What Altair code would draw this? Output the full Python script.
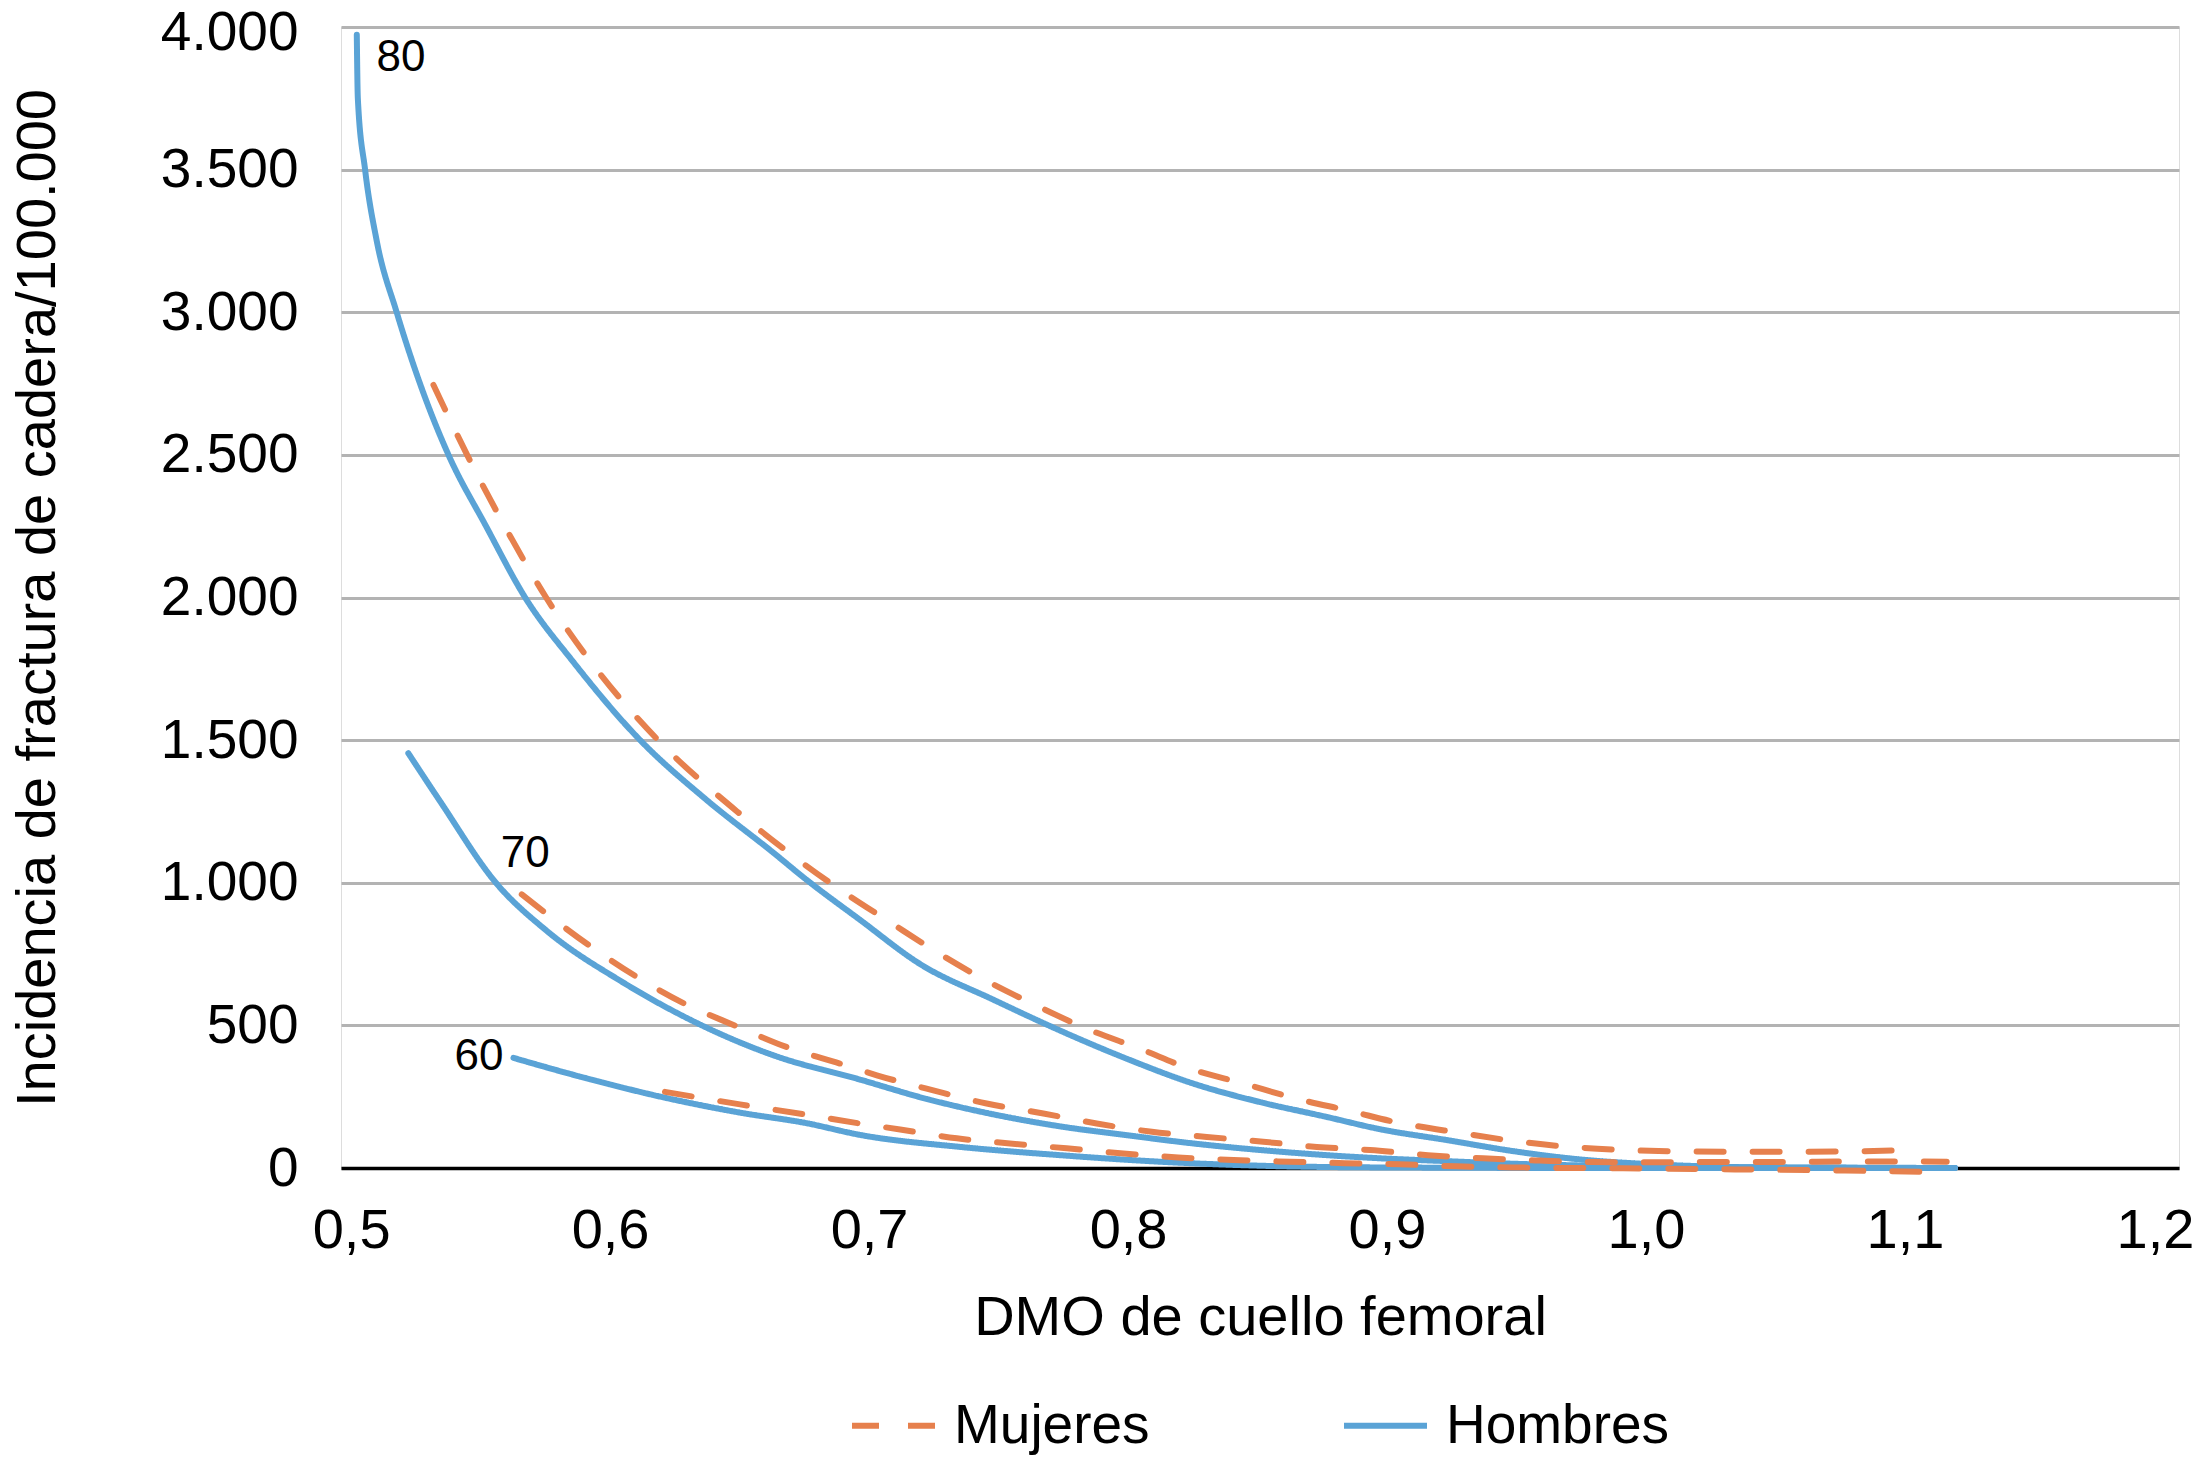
import altair as alt
import pandas as pd

# ---- data ----
h80_x = [0.5022, 0.5026, 0.5054, 0.5099, 0.5176, 0.5266, 0.5376, 0.5521, 0.5672, 0.5858, 0.6116, 0.6373, 0.6631,
         0.6759, 0.6965, 0.7197, 0.7480, 0.7737, 0.7995, 0.8252, 0.8510, 0.8767, 0.8973, 0.9230, 0.9488, 0.9745,
         1.0003, 1.0260, 1.0595, 1.1193]
h80_y = [3973, 3750, 3500, 3250, 3000, 2750, 2500, 2250, 2000, 1774, 1500, 1290, 1105,
         1010, 870, 715, 590, 482, 383, 296, 231, 179, 136, 98, 59, 30,
         14, 5, 1, 0]

m80_x = [0.5318, 0.5448, 0.5587, 0.5753, 0.5946, 0.6185, 0.6490, 0.6849, 0.7094, 0.7274, 0.7454, 0.7647, 0.7841,
         0.8046, 0.8239, 0.8445, 0.8651, 0.8870, 0.9012, 0.9282, 0.9488, 0.9707, 0.9925, 1.0131, 1.0350, 1.0569,
         1.0775, 1.1007]
m80_y = [2745, 2500, 2260, 2000, 1750, 1500, 1250, 1000, 854, 750, 656, 569, 488,
         418, 348, 296, 243, 197, 165, 123, 95, 74, 63, 58, 57, 57,
         58, 63]

h70_x = [0.5221, 0.5344, 0.5559, 0.5756, 0.6051, 0.6354, 0.6631, 0.6965, 0.7223, 0.7480, 0.7737, 0.7995, 0.8252,
         0.8510, 0.8767, 0.8973, 0.9230, 0.9488, 0.9745, 1.0003, 1.0595, 1.1193]
h70_y = [1454, 1285, 1000, 831, 650, 500, 395, 310, 242, 188, 146, 115, 86,
         63, 45, 34, 24, 15, 9, 5, 2, 0]

m70_x = [0.5659, 0.5923, 0.6103, 0.6290, 0.6483, 0.6682, 0.6888, 0.7030, 0.7248, 0.7454, 0.7673, 0.7879, 0.8092,
         0.8304, 0.8522, 0.8729, 0.8934, 0.9158, 0.9371, 0.9591, 0.9795, 1.0015, 1.0234, 1.0452, 1.0659, 1.0876,
         1.1161]
m70_y = [959, 778, 670, 575, 499, 424, 366, 325, 272, 226, 191, 156, 127,
         109, 92, 74, 63, 45, 34, 26, 21, 20, 21, 21, 22, 23,
         22]

h60_x = [0.5627, 0.5923, 0.6219, 0.6502, 0.6759, 0.6965, 0.7351, 0.7737, 0.8124, 0.8510, 0.8973, 0.9822, 1.1193]
h60_y = [386, 311, 245, 194, 157, 116, 74, 45, 22, 8, 2, 0, 0]

m60_x = [0.6212, 0.6502, 0.6759, 0.6965, 0.7120, 0.7339, 0.7544, 0.7763, 0.7982, 0.8194, 0.8407, 0.8625, 0.8838,
         0.9050, 0.9269, 0.9481, 0.9911, 1.0344, 1.0768, 1.1161]
m60_y = [267, 223, 187, 156, 135, 104, 86, 69, 51, 37, 28, 22, 17,
         13, 6, 2, -1, -5, -9, -15]

age_labels = ["80", "70", "60"]
age_label_x = [0.5193, 0.5672, 0.5494]
age_label_y = [3890, 1100, 388]

x_ticks = [0.5, 0.6, 0.7, 0.8, 0.9, 1.0, 1.1, 1.2]
y_ticks = [0, 500, 1000, 1500, 2000, 2500, 3000, 3500, 4000]
sex_order = ["Mujeres", "Hombres"]

# ---- build tables ----
def series(xs, ys, sexo, edad):
    return pd.DataFrame({"x": xs, "y": ys, "sexo": sexo, "edad": edad})

hombres = pd.concat([series(h80_x, h80_y, "Hombres", "80"),
                     series(h70_x, h70_y, "Hombres", "70"),
                     series(h60_x, h60_y, "Hombres", "60")], ignore_index=True)
mujeres = pd.concat([series(m80_x, m80_y, "Mujeres", "80"),
                     series(m70_x, m70_y, "Mujeres", "70"),
                     series(m60_x, m60_y, "Mujeres", "60")], ignore_index=True)
labels = pd.DataFrame({"x": age_label_x, "y": age_label_y, "t": age_labels})

FONT = "Liberation Sans"
BLUE = "#5AA3D6"
ORANGE = "#E6804D"
PLOT_W, PLOT_H = 1838, 1141

x_scale = alt.Scale(domain=[0.4961, 1.2058], nice=False, zero=False)
y_scale = alt.Scale(domain=[0, 4000], nice=False, zero=False)

x_axis = alt.Axis(
    values=x_ticks, title="DMO de cuello femoral", grid=False, ticks=False, tickSize=0,
    domain=True, domainColor="#000000", domainWidth=3.5,
    labelExpr="replace(format(datum.value, '.1f'), '.', ',')",
    labelFont=FONT, labelFontSize=56, labelColor="#000000", labelPadding=35,
    labelOffset={"condition": {"test": "datum.value > 1.15", "value": -9}, "value": 0},
    titleFont=FONT, titleFontSize=56, titleFontWeight="normal", titleColor="#000000",
    titleBaseline="alphabetic", titleY=166,
)
y_axis = alt.Axis(
    values=y_ticks, title="Incidencia de fractura de cadera/100.000",
    grid=True, gridColor="#B3B3B3", gridWidth=3, ticks=False, tickSize=0, domain=False,
    labelExpr="replace(format(datum.value, ','), ',', '.')",
    labelFont=FONT, labelFontSize=55, labelColor="#000000", labelPadding=43,
    labelOffset={"condition": {"test": "datum.value > 3900", "value": 5}, "value": 0},
    titleFont=FONT, titleFontSize=56, titleFontWeight="normal", titleColor="#000000",
    titleBaseline="middle", titleX=-304, titleY=PLOT_H / 2, titleAngle=270,
)

color = alt.Color("sexo:N", scale=alt.Scale(domain=sex_order, range=[ORANGE, BLUE]),
                  legend=alt.Legend(title=None, orient="none", direction="horizontal",
                                    legendX=508, legendY=1354, padding=0,
                                    symbolType="stroke", symbolSize=6889, symbolStrokeWidth=6,
                                    labelFont=FONT, labelFontSize=55, labelColor="#000000",
                                    labelOffset=16, columnPadding=182, labelLimit=400))
dash = alt.StrokeDash("sexo:N", scale=alt.Scale(domain=sex_order, range=[[27, 29], [1, 0]]),
                      legend=None)

def lines(df):
    return alt.Chart(df).mark_line(strokeWidth=6, interpolate="monotone", strokeCap="round").encode(
        x=alt.X("x:Q", scale=x_scale, axis=x_axis),
        y=alt.Y("y:Q", scale=y_scale, axis=y_axis),
        color=color,
        strokeDash=dash,
        detail="edad:N",
    )

text = alt.Chart(labels).mark_text(font=FONT, fontSize=44, color="#000000", align="center",
                                   baseline="middle").encode(
    x=alt.X("x:Q", scale=x_scale),
    y=alt.Y("y:Q", scale=y_scale),
    text="t:N",
)

chart = alt.layer(lines(hombres), lines(mujeres), text).properties(
    width=PLOT_W, height=PLOT_H,
    autosize=alt.AutoSizeParams(type="none"),
    padding={"left": 333, "top": 19, "right": 15, "bottom": 289},
).configure_view(stroke=None).configure(background="#FFFFFF")

chart.save("out.html", embed_options={"renderer": "svg", "actions": False})
